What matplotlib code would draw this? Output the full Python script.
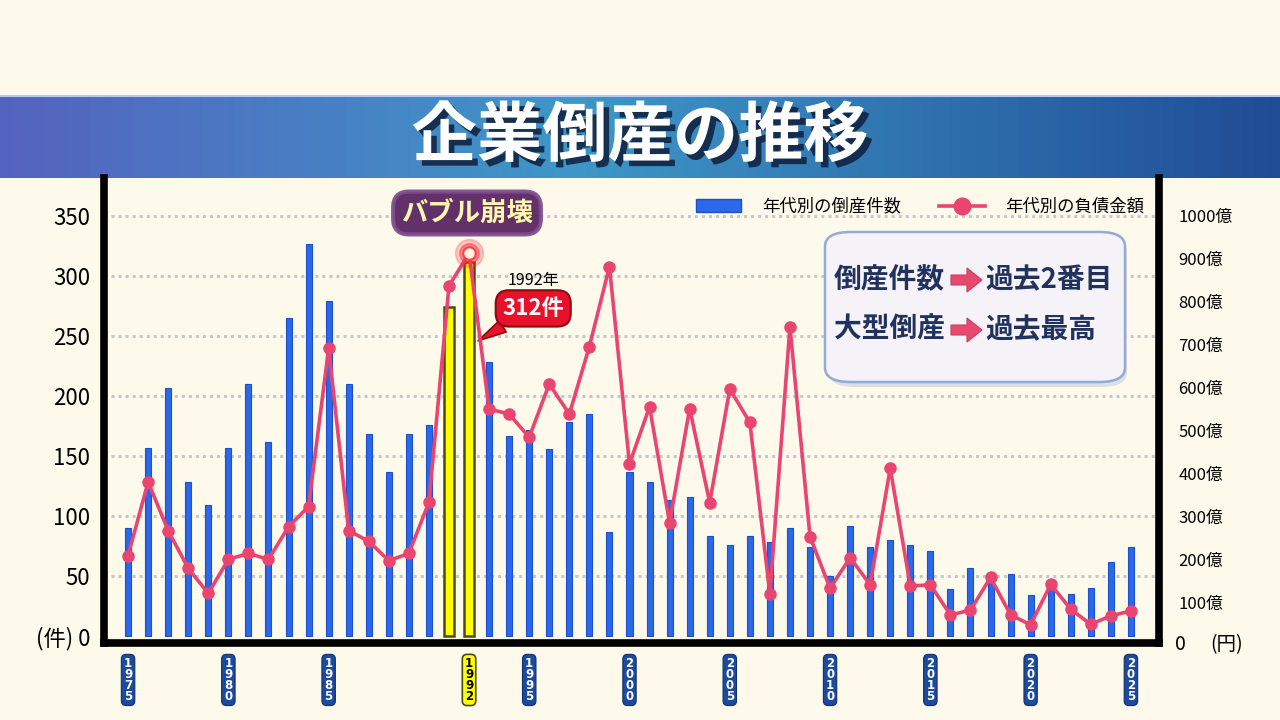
import numpy as np
import matplotlib
matplotlib.use("Agg")
from matplotlib import pyplot as plt
from matplotlib.patches import FancyBboxPatch, Polygon, Patch
from matplotlib.lines import Line2D
import matplotlib.patheffects as pe

plt.rcParams['font.family'] = ['Noto Sans CJK JP', 'DejaVu Sans']

# data
years = list(range(1975, 2026))
counts = [90, 157, 207, 128, 109, 157, 210, 162, 265, 327,
          279, 210, 168, 137, 168, 176, 274, 312, 228, 167,
          172, 156, 178, 185, 87, 137, 128, 113, 116, 83,
          76, 83, 78, 90, 74, 50, 92, 74, 80, 76,
          71, 39, 57, 46, 52, 34, 45, 35, 40, 62, 74]
debt = [208, 379, 266, 178, 120, 199, 213, 199, 275, 322,
        690, 266, 241, 196, 213, 332, 835, 911, 549, 537,
        483, 607, 537, 694, 880, 421, 554, 284, 550, 331,
        595, 518, 119, 740, 252, 132, 203, 140, 411, 137,
        140, 70, 81, 157, 70, 47, 141, 83, 48, 68, 79]
highlight_years = [1991, 1992]
label_years = [1975, 1980, 1985, 1992, 1995, 2000, 2005, 2010, 2015, 2020, 2025]
left_ticks = [0, 50, 100, 150, 200, 250, 300, 350]
right_ticks = [100, 200, 300, 400, 500, 600, 700, 800, 900, 1000]

bg = '#FDFAEC'
bar_blue = '#2B68EC'
pink = '#EA4470'

def fx(x):
    return x / 1280

def fy(y):
    return 1 - y / 720

fig = plt.figure(figsize=(12.8, 7.2), dpi=100, facecolor=bg)

# title band
band = fig.add_axes([0, fy(178), 1, (178 - 95) / 720])
grad = np.linspace(0, 1, 400)
c_left = np.array([0x55, 0x63, 0xBF]) / 255
c_mid = np.array([0x3E, 0x97, 0xC8]) / 255
c_right = np.array([0x20, 0x4C, 0x95]) / 255
img = np.zeros((2, 400, 3))
for i, g in enumerate(grad):
    if g < 0.45:
        t = g / 0.45
        img[:, i] = c_left * (1 - t) + c_mid * t
    else:
        t = (g - 0.45) / 0.55
        img[:, i] = c_mid * (1 - t) + c_right * t
band.imshow(img, aspect='auto', extent=[0, 1, 0, 1])
band.axhline(0.985, color='#B8C8EE', lw=1.5)
band.set_axis_off()
band.text(0.5, 0.5, '企業倒産の推移', color='white', fontsize=47, fontweight='bold',
          ha='center', va='center',
          path_effects=[pe.SimplePatchShadow(offset=(4, -4), shadow_rgbFace='#0E1E3C', alpha=0.85),
                        pe.Normal()])

# main axes
bottom_px = 643
top_px = 178
ax = fig.add_axes([fx(104), fy(bottom_px), (1159 - 104) / 1280, (bottom_px - top_px) / 720])
ax.set_facecolor('none')
ax.set_xlim(1973.8, 2026.4)
h_px = bottom_px - top_px
lbot = -(bottom_px - 636) / 1.2
ax.set_ylim(lbot, lbot + h_px / 1.2)

normal = [i for i, y in enumerate(years) if y not in highlight_years]
hl = [i for i, y in enumerate(years) if y in highlight_years]
ax.bar([years[i] for i in normal], [counts[i] for i in normal], width=0.3,
       color=bar_blue, edgecolor='#1A50C8', linewidth=0.8, zorder=2)
ax.bar([years[i] for i in hl], [counts[i] for i in hl], width=0.5,
       color='#FFFF00', edgecolor='#4A4A18', linewidth=1.8, zorder=2)

ax.set_yticks(left_ticks)
ax.set_yticklabels(['(件) 0'] + [str(v) for v in left_ticks[1:]], fontsize=16)
ax.tick_params(axis='y', length=0, pad=10)
ax.set_xticks([])
ax.yaxis.grid(True, color='#C8C8C8', linestyle=(0, (1, 1.3)), linewidth=2.2)
ax.set_axisbelow(True)
for s in ['left', 'bottom', 'right']:
    ax.spines[s].set_linewidth(5.5)
    ax.spines[s].set_color('black')
ax.spines['top'].set_visible(False)
ax.yaxis.get_gridlines()[0].set_visible(False)

# right axis with the debt line
ax2 = ax.twinx()
ax2.set_facecolor('none')
rbot = (645 - bottom_px) / 0.43
ax2.set_ylim(rbot, rbot + h_px / 0.43)
ax2.plot(years, debt, color=pink, lw=2.6, marker='o', markersize=8, zorder=3)
i92 = years.index(1992)
ax2.plot([1992], [debt[i92]], marker='o', markersize=20, color='#FF2030', alpha=0.25, zorder=4)
ax2.plot([1992], [debt[i92]], marker='o', markersize=14, color='#FF3040', alpha=0.45, zorder=4)
ax2.plot([1992], [debt[i92]], marker='o', markersize=9, markerfacecolor='#FFF8DC',
         markeredgecolor='#FF4050', markeredgewidth=1.5, zorder=5)
ax2.set_yticks(right_ticks)
ax2.set_yticklabels([f'{v}億' for v in right_ticks], fontsize=12)
ax2.tick_params(axis='y', length=0, pad=14)
for s in ax2.spines.values():
    s.set_visible(False)
fig.text(fx(1175), fy(645), '0', fontsize=14, ha='left', va='center')
fig.text(fx(1210), fy(645), '(円)', fontsize=14, ha='left', va='center')

# year labels under the axis
for y in label_years:
    is_hl = y in highlight_years
    ax.text(y, -0.03, '\n'.join(str(y)), transform=ax.get_xaxis_transform(),
            ha='center', va='top', fontsize=8.5, family='DejaVu Sans', fontweight='bold',
            linespacing=0.8, color='black' if is_hl else 'white',
            bbox=dict(boxstyle='round,pad=0.22,rounding_size=0.4',
                      fc='#FFFF00' if is_hl else '#1C4A9C',
                      ec='#4A4A18' if is_hl else '#10306E', lw=1.2 if is_hl else 0.8))

# legend
handles = [Patch(facecolor=bar_blue, edgecolor='#1A50C8'),
           Line2D([0], [0], color=pink, lw=2.6, marker='o', markersize=12)]
ax.legend(handles, ['年代別の倒産件数', '年代別の負債金額'], ncol=2, frameon=False,
          loc='upper right', bbox_to_anchor=(fx(1160), fy(182)), bbox_transform=fig.transFigure,
          fontsize=12.5, handlelength=2.6, columnspacing=2.2, handletextpad=1.2)

# bubble label
fig.text(fx(467), fy(213), 'バブル崩壊', fontsize=19, fontweight='bold', color='#FFF6B0',
         ha='center', va='center',
         bbox=dict(boxstyle='round,pad=0.3,rounding_size=0.6', fc='#55205F', ec='#7E4C8C',
                   lw=3, alpha=0.92))

# 1992 callout
ax.text(1995.2, 296, '1992年', fontsize=11.5, ha='center', va='center')
ax.annotate('312件', xy=(1992.45, 246), xytext=(1995.2, 273), fontsize=16, fontweight='bold',
            color='white', ha='center', va='center',
            bbox=dict(boxstyle='round,pad=0.3,rounding_size=0.6', fc='#E8102A', ec='#8A0A12', lw=1.5),
            arrowprops=dict(arrowstyle='wedge,tail_width=0.6,shrink_factor=0.5', fc='#E8102A',
                            ec='#8A0A12', lw=1.2, shrinkA=0, shrinkB=0),
            zorder=6)

# summary box
shadow = FancyBboxPatch((fx(829), fy(387)), fx(1127) - fx(829), fy(236) - fy(387),
                        boxstyle='round,pad=0,rounding_size=0.02', transform=fig.transFigure,
                        fc='#C9CFDD', ec='none', alpha=0.6, zorder=5)
fig.patches.append(shadow)
box = FancyBboxPatch((fx(825), fy(382)), fx(1125) - fx(825), fy(232) - fy(382),
                     boxstyle='round,pad=0,rounding_size=0.02', transform=fig.transFigure,
                     fc='#F5F3F8', ec='#93AAD6', lw=1.8, zorder=6)
fig.patches.append(box)
for row_y, left_txt, right_txt in [(280, '倒産件数', '過去2番目'), (330, '大型倒産', '過去最高')]:
    fig.text(fx(834), fy(row_y), left_txt, fontsize=20, fontweight='bold', color='#22325E',
             ha='left', va='center', zorder=7)
    fig.text(fx(985), fy(row_y), right_txt, fontsize=20, fontweight='bold', color='#22325E',
             ha='left', va='center', zorder=7)
    x0, x1 = 951, 982
    arrow = Polygon([(fx(x0), fy(row_y - 5)), (fx(x0 + 16), fy(row_y - 5)), (fx(x0 + 16), fy(row_y - 12)),
                     (fx(x1), fy(row_y)), (fx(x0 + 16), fy(row_y + 12)), (fx(x0 + 16), fy(row_y + 5)),
                     (fx(x0), fy(row_y + 5))], closed=True, transform=fig.transFigure,
                    fc='#E64A6E', ec='#D23A5E', lw=0.8, zorder=7)
    fig.patches.append(arrow)

fig.savefig('out.png', dpi=100, facecolor=bg)
